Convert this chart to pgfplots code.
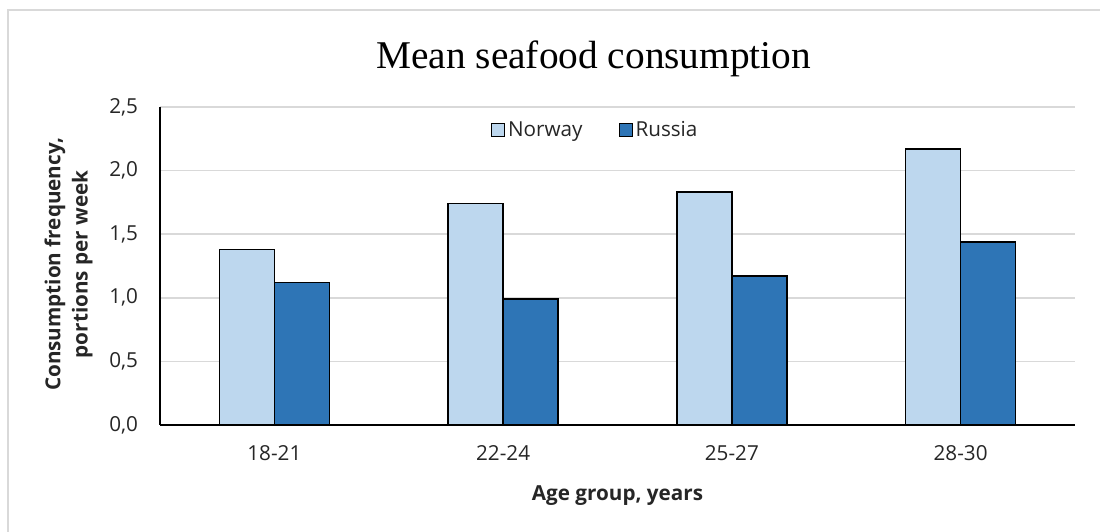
\documentclass[border=0pt]{standalone}
\usepackage{fontspec}
\setmainfont{Open Sans}
\newfontfamily\titlefont{Liberation Serif}
\usepackage{pgfplots}
\pgfplotsset{compat=1.18}
\definecolor{norway}{HTML}{BDD7EE}
\definecolor{russia}{HTML}{2E75B6}
\definecolor{gridgray}{HTML}{D9D9D9}
\definecolor{txt}{HTML}{262626}
\pgfplotsset{sqlegend/.style={legend image code/.code={\draw[##1, line width=0.8pt] (0pt,-5pt) rectangle (10pt,5pt);}}}
\begin{document}
\begin{tikzpicture}
\useasboundingbox (0,0) rectangle (825pt,399pt);
\draw[gridgray, line width=1pt] (6pt,0) -- (6pt,391.5pt) -- (825pt,391.5pt);
\begin{axis}[
  at={(120pt,80.25pt)}, anchor=south west,
  scale only axis, width=686.25pt, height=238.5pt,
  ybar=0pt, bar width=41.25pt,
  xmin=-0.5, xmax=3.5, ymin=0, ymax=2.5,
  xtick={0,1,2,3}, xticklabels={18-21,22-24,25-27,28-30},
  ytick={0,0.5,1,1.5,2,2.5},
  /pgf/number format/fixed, /pgf/number format/fixed zerofill,
  /pgf/number format/precision=1, /pgf/number format/use comma,
  /pgf/number format/assume math mode=true,
  tick label style={font=\fontsize{15.5}{18}\selectfont, text=txt},
  yticklabel style={xshift=-13pt},
  xticklabel style={yshift=-12pt},
  major tick length=0pt,
  axis x line*=bottom, axis y line*=left,
  x axis line style={line width=1.5pt, -},
  y axis line style={line width=0.75pt, -},
  ymajorgrids, grid style={gridgray, line width=1.3pt},
  xlabel={Age group, years},
  xlabel style={font=\bfseries\fontsize{15.5}{21}\selectfont, text=txt, at={(axis description cs:0.5,-0.222)}, anchor=center},
  ylabel={Consumption frequency,\\portions per week},
  ylabel style={font=\bfseries\fontsize{15.5}{20.5}\selectfont, text=txt, align=center, at={(axis description cs:-0.1,0.505)}, anchor=center},
  title={Mean seafood consumption},
  title style={font=\titlefont\fontsize{29.5}{34}\selectfont, text=black, at={(axis description cs:0.474,1.095)}, anchor=base, yshift=0pt},
  legend style={at={(0.476,0.928)}, anchor=center, draw=none, fill=none, legend columns=2,
    font=\fontsize{15.5}{18}\selectfont, text=txt,
    /tikz/every even column/.append style={column sep=25pt}},
]
\addplot[fill=norway, draw=black, line width=1.2pt, sqlegend]
  coordinates {(0,1.38) (1,1.74) (2,1.83) (3,2.17)};
\addplot[fill=russia, draw=black, line width=1.2pt, sqlegend]
  coordinates {(0,1.12) (1,0.99) (2,1.17) (3,1.44)};
\legend{Norway, Russia}
\end{axis}
\end{tikzpicture}
\end{document}
